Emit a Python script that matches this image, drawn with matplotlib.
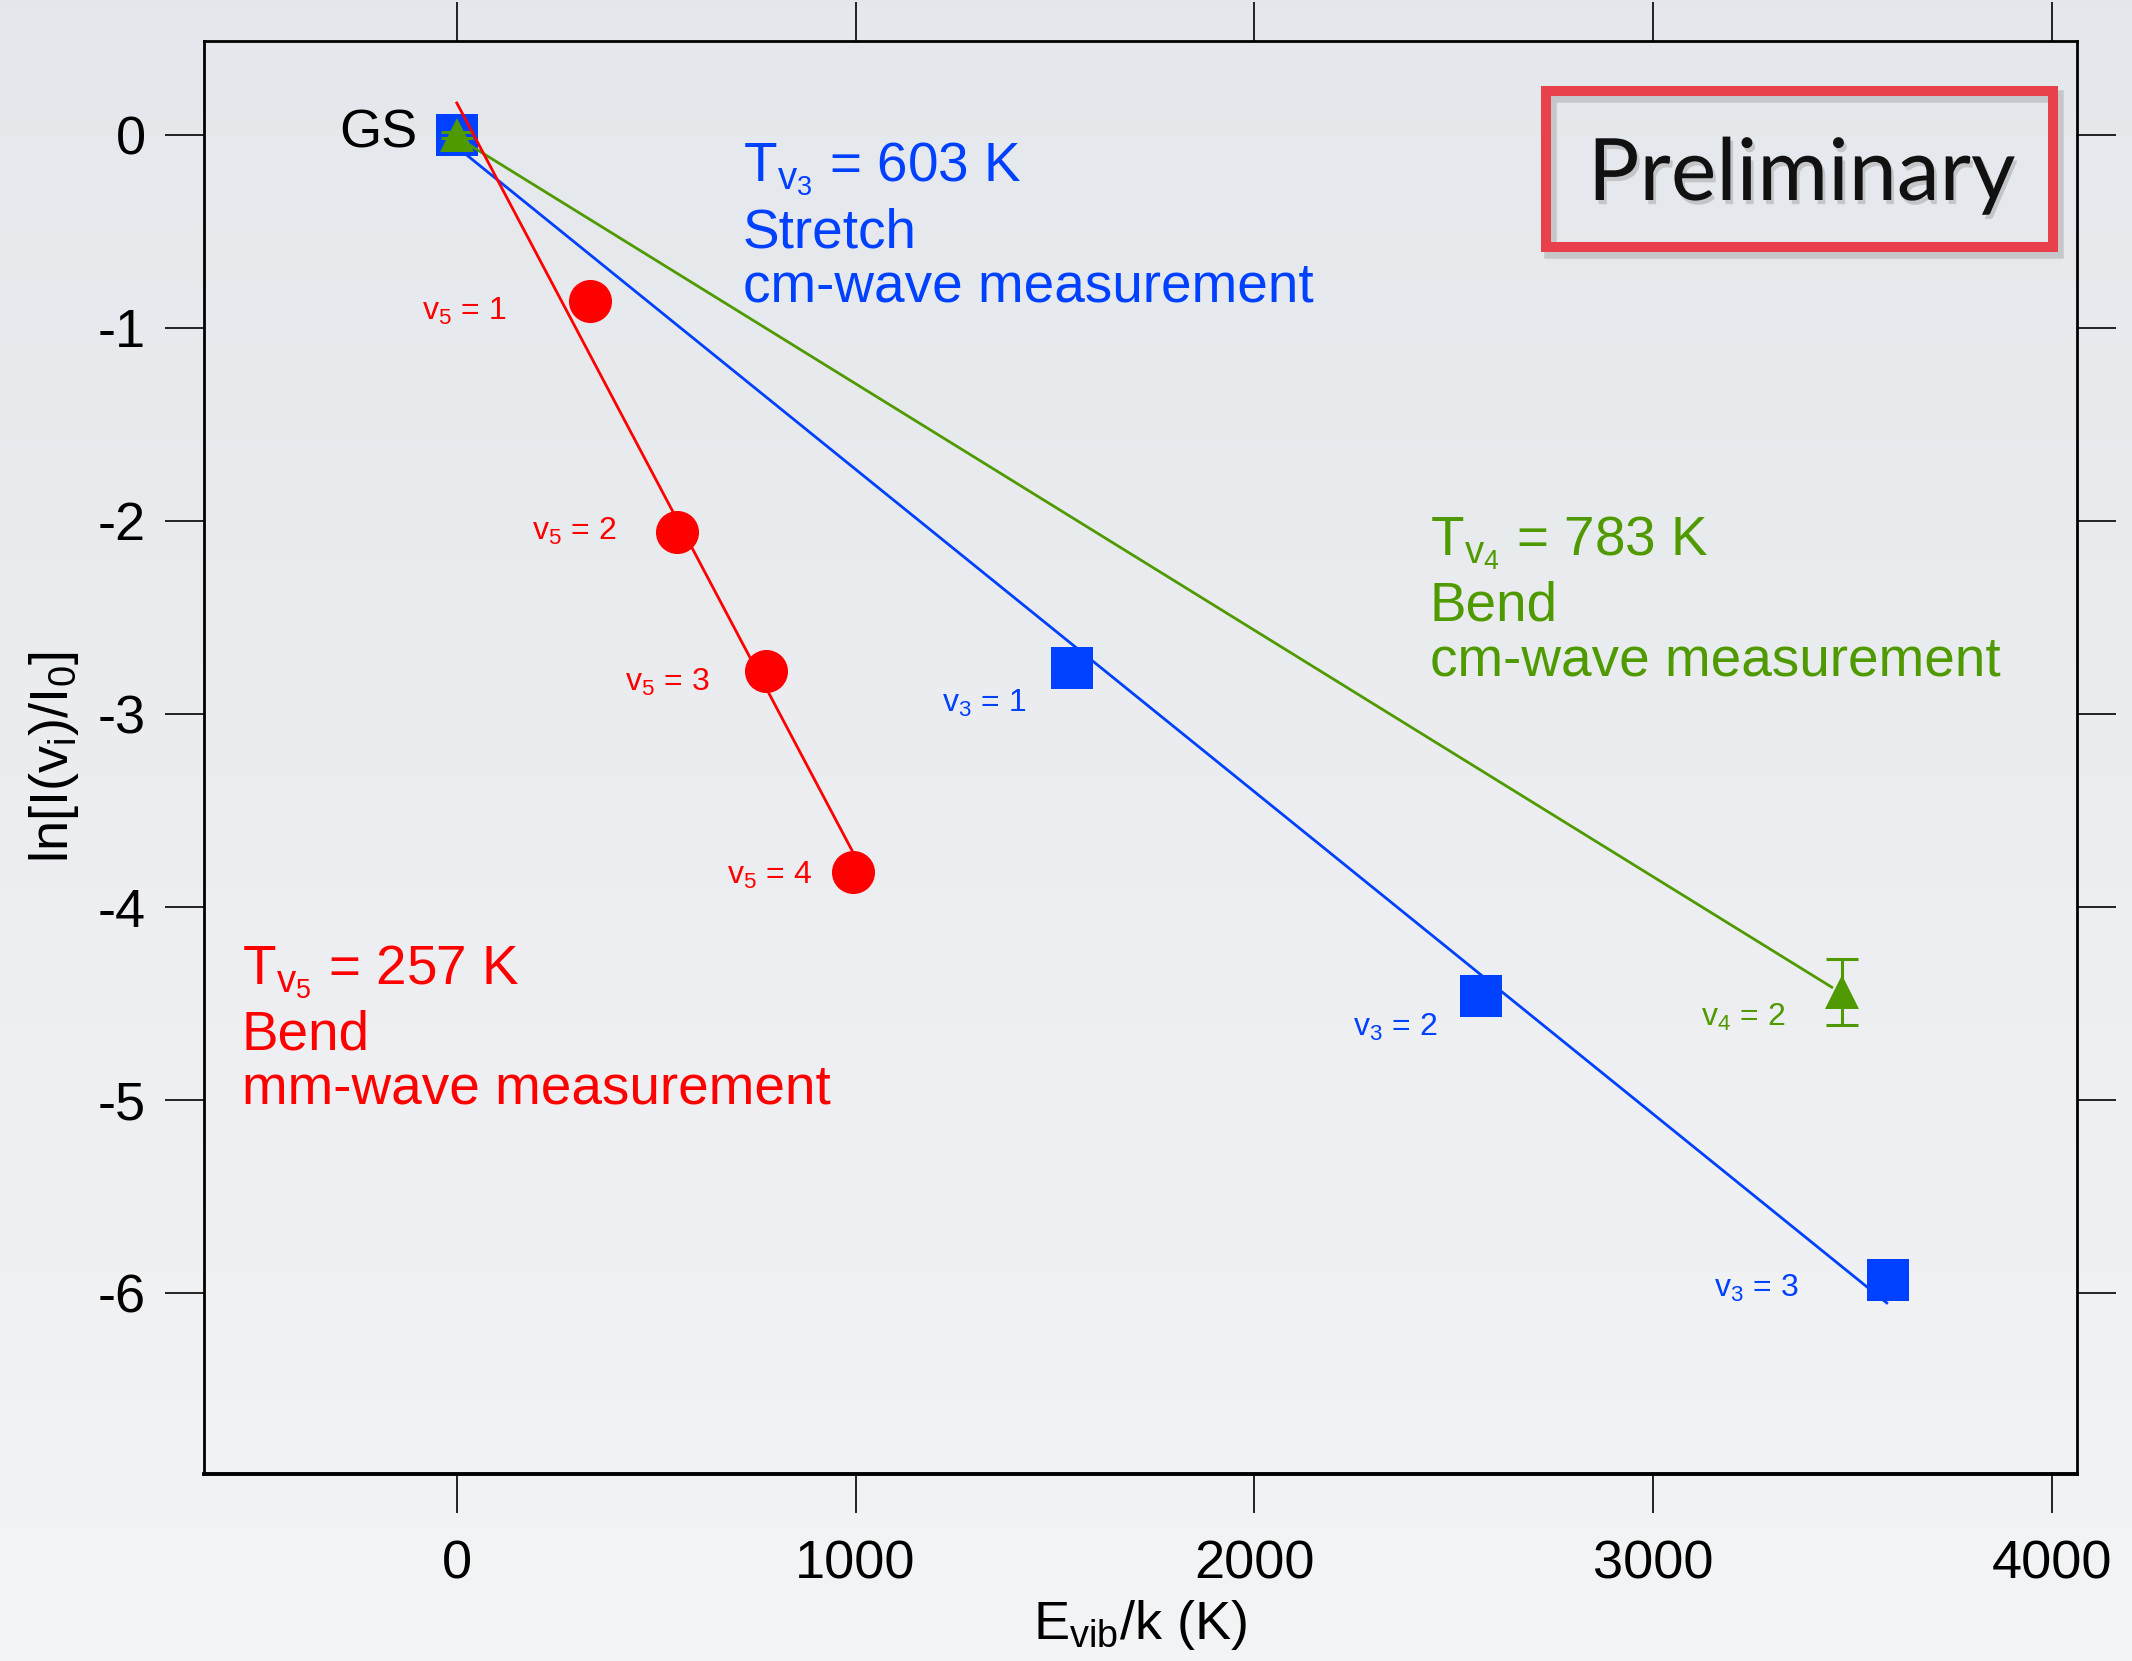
import numpy as np
import matplotlib
matplotlib.use("Agg")
import matplotlib.pyplot as plt
import matplotlib.patheffects as pe
from matplotlib.patches import Rectangle

plt.rcParams['font.family'] = ['Liberation Sans', 'DejaVu Sans']
plt.rcParams['mathtext.default'] = 'regular'
plt.rcParams['axes.unicode_minus'] = False

# data
red_x = [333, 552, 775, 993]
red_y = [-0.86, -2.06, -2.78, -3.82]
red_labels = ["v$_5$ = 1", "v$_5$ = 2", "v$_5$ = 3", "v$_5$ = 4"]

blue_x = [0, 1542, 2568, 3589]
blue_y = [0, -2.76, -4.46, -5.93]
blue_labels = [None, "v$_3$ = 1", "v$_3$ = 2", "v$_3$ = 3"]

green_x = [0, 3473]
green_y = [0, -4.44]
green_err = [0.015, 0.17]
green_labels = [None, "v$_4$ = 2"]

# fitted lines
red_fit_x = [0, 1000]
red_fit_y = [0.164, -3.742]
blue_fit_x = [0, 3586]
blue_fit_y = [-0.064, -6.05]
green_fit_x = [0, 3448]
green_fit_y = [-0.013, -4.415]

xticks = [0, 1000, 2000, 3000, 4000]
yticks = [0, -1, -2, -3, -4, -5, -6]

RED = '#FF0000'
BLUE = '#0040FF'
GREEN = '#4F9A00'

W, H = 2132, 1661
fig = plt.figure(figsize=(W / 100, H / 100), dpi=100)


def px(x, y):
    return x / W, 1 - y / H


# light grey gradient background
bg = fig.add_axes([0, 0, 1, 1], zorder=-10)
grad = np.linspace(0, 1, 256).reshape(-1, 1)
top = np.array([0.894, 0.906, 0.922])
bot = np.array([0.953, 0.957, 0.965])
img = top + (bot - top) * grad[..., None]
bg.imshow(img, aspect='auto', extent=[0, 1, 0, 1])
bg.axis('off')

ax = fig.add_axes([204 / W, 1 - 1474 / H, (2077 - 204) / W, (1474 - 41) / H])
ax.set_facecolor('none')

ax.plot(blue_fit_x, blue_fit_y, color=BLUE, lw=2, zorder=2)
ax.plot(blue_x, blue_y, 's', color=BLUE, ms=30, mew=0, zorder=3)
ax.plot(green_fit_x, green_fit_y, color=GREEN, lw=2, zorder=4)
ax.errorbar(green_x, green_y, yerr=green_err, fmt='none', ecolor=GREEN,
            elinewidth=2.2, capsize=11.5, capthick=2.2, zorder=5)
ax.plot(green_x, green_y, '^', color=GREEN, ms=25, mew=0, zorder=5)
ax.plot(red_x, red_y, 'o', color=RED, ms=31, mew=0, zorder=6)
ax.plot(red_fit_x, red_fit_y, color=RED, lw=2, zorder=7)

# point labels
red_off = [(-83, -19), (-61, -7), (-56, -19), (-41, -12)]
for xv, yv, lab, off in zip(red_x, red_y, red_labels, red_off):
    ax.annotate(lab, (xv, yv), xytext=off, textcoords='offset pixels',
                ha='right', va='baseline', color=RED, fontsize=23)
blue_off = [None, (-46, -44), (-44, -40), (-90, -17)]
for xv, yv, lab, off in zip(blue_x, blue_y, blue_labels, blue_off):
    if lab:
        ax.annotate(lab, (xv, yv), xytext=off, textcoords='offset pixels',
                    ha='right', va='baseline', color=BLUE, fontsize=23)
ax.annotate(green_labels[1], (green_x[1], green_y[1]), xytext=(-56, -34),
            textcoords='offset pixels', ha='right', va='baseline',
            color=GREEN, fontsize=23)
ax.annotate("GS", (0, 0), xytext=(-39, -13), textcoords='offset pixels',
            ha='right', va='baseline', color='black', fontsize=39)

# temperature blocks
blocks = [
    (743, [181, 247, 301], ["T$_{v_3}$ = 603 K", "Stretch", "cm-wave measurement"], BLUE),
    (1430, [555, 621, 675], ["T$_{v_4}$ = 783 K", "Bend", "cm-wave measurement"], GREEN),
    (242, [984, 1050, 1104], ["T$_{v_5}$ = 257 K", "Bend", "mm-wave measurement"], RED),
]
for x0, ys, lines, col in blocks:
    for yb, line in zip(ys, lines):
        fig.text(*px(x0, yb), line, color=col, fontsize=39.5, ha='left', va='baseline')

ax.set_xlim(-634, 4063)
ax.set_ylim(-6.936, 0.485)
ax.set_xticks(xticks)
ax.set_yticks(yticks)
ax.tick_params(direction='out', length=28, width=1.2, top=True, right=True,
               labelsize=39, color='black')
ax.tick_params(axis='x', pad=19)
ax.tick_params(axis='y', pad=14)
for s in ax.spines.values():
    s.set_linewidth(2)
ax.spines['bottom'].set_linewidth(2.8)

ax.set_xlabel("E$_{vib}$/k (K)", fontsize=39, labelpad=6)
ax.set_ylabel("ln[I(v$_i$)/I$_0$]", fontsize=39, labelpad=12)

# "Preliminary" stamp with a soft drop shadow
rect_shadow = Rectangle(px(1550, 252), 507 / W, 156 / H, transform=fig.transFigure,
                        fill=False, edgecolor='#666666', lw=9, alpha=0.25, zorder=19)
fig.add_artist(rect_shadow)
rect = Rectangle(px(1546, 247), 507 / W, 156 / H, transform=fig.transFigure,
                 fill=False, edgecolor='#E8414B', lw=7.2, zorder=20)
fig.add_artist(rect)
fig.text(*px(1802, 200), "Preliminary", family=['Lato', 'DejaVu Sans'],
         fontsize=62, ha='center', va='baseline', color='#111111', zorder=21,
         path_effects=[pe.withSimplePatchShadow(offset=(2, -3), shadow_rgbFace='#777777',
                                                alpha=0.3)])

fig.savefig("out.png", dpi=100)
